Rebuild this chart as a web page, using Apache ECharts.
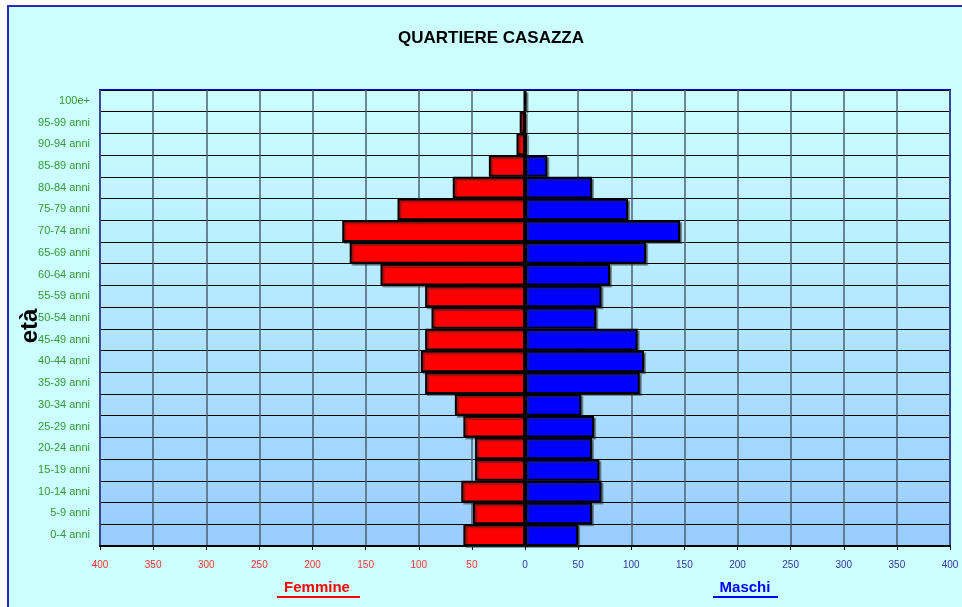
<!DOCTYPE html>
<html>
<head>
<meta charset="utf-8">
<script src="https://cdn.jsdelivr.net/npm/echarts@6/dist/echarts.min.js"></script>
<style>
html,body{margin:0;padding:0;background:#fff;}
#c{width:962px;height:607px;}
</style>
</head>
<body>
<div id="c"></div>
<script>
// Age classes, top to bottom
var categories = ['100e+','95-99 anni','90-94 anni','85-89 anni','80-84 anni','75-79 anni','70-74 anni','65-69 anni','60-64 anni','55-59 anni','50-54 anni','45-49 anni','40-44 anni','35-39 anni','30-34 anni','25-29 anni','20-24 anni','15-19 anni','10-14 anni','5-9 anni','0-4 anni'];
var femmine = [1,5,8,34,68,120,172,165,136,94,88,94,98,94,66,58,47,47,60,49,58];
var maschi  = [1,0,2,21,63,97,146,114,80,72,67,106,112,108,53,65,63,70,72,63,50];
var xTicks = {min:-400, max:400, interval:50};

var chart = echarts.init(document.getElementById('c'), null, {renderer:'canvas'});
var font = '"Liberation Sans", Arial, sans-serif';
var option = {
  backgroundColor: '#ffffff',
  animation: false,
  graphic: [
    {type:'rect', z:-10, shape:{x:8, y:6, width:970, height:620}, style:{fill:'#ccffff', stroke:'#2a2ab8', lineWidth:2}},
    {type:'text', z:10, x:491, y:38, style:{text:'QUARTIERE CASAZZA', font:'bold 17px '+font, fill:'#000', textAlign:'center', textVerticalAlign:'middle'}},
    {type:'text', z:10, x:30, y:326, rotation:Math.PI/2, style:{text:'età', font:'bold 24px '+font, fill:'#000', textAlign:'center', textVerticalAlign:'middle'}},
    {type:'text', z:10, x:317, y:588, style:{text:'Femmine', font:'bold 15px '+font, fill:'#ff0000', textAlign:'center', textVerticalAlign:'middle'}},
    {type:'line', z:10, shape:{x1:277, y1:597, x2:360, y2:597}, style:{stroke:'#ff0000', lineWidth:2}},
    {type:'text', z:10, x:745, y:588, style:{text:'Maschi', font:'bold 15px '+font, fill:'#0000ff', textAlign:'center', textVerticalAlign:'middle'}},
    {type:'line', z:10, shape:{x1:713, y1:597, x2:778, y2:597}, style:{stroke:'#0000ff', lineWidth:2}}
  ],
  grid: {
    left:100, right:12, top:90, bottom:61,
    show:true,
    backgroundColor: new echarts.graphic.LinearGradient(0,0,0,1,[{offset:0,color:'#ccffff'},{offset:1,color:'#99ccff'}]),
    borderColor:'#0000ff', borderWidth:2
  },
  xAxis: {
    type:'value', min:xTicks.min, max:xTicks.max, interval:xTicks.interval,
    axisLine:{show:true, onZero:false, lineStyle:{color:'#000', width:2}},
    axisTick:{show:true, length:4, lineStyle:{color:'#000', width:1}},
    splitLine:{show:true, lineStyle:{color:'#4d6070', width:1.5}},
    axisLabel:{
      margin:14, fontFamily:font, fontSize:10,
      formatter:function(v){ return v<0 ? '{r|'+(-v)+'}' : '{b|'+v+'}'; },
      rich:{ r:{color:'#ff3333', fontSize:10, fontFamily:font}, b:{color:'#333399', fontSize:10, fontFamily:font} }
    }
  },
  yAxis: {
    type:'category', data:categories, inverse:true,
    axisLine:{show:false}, axisTick:{show:false},
    splitLine:{show:true, lineStyle:{color:'#000', width:1}},
    axisLabel:{color:'#339933', fontSize:11, fontFamily:font, margin:10}
  },
  series: [
    {name:'Femmine', type:'bar', data:femmine.map(function(v){return -v;}), barGap:'-100%', barCategoryGap:'0%',
     itemStyle:{color:'#ff0000', borderColor:'#000', borderWidth:2, shadowColor:'rgba(40,40,40,0.45)', shadowOffsetX:2, shadowOffsetY:2}},
    {name:'Maschi', type:'bar', data:maschi, barGap:'-100%', barCategoryGap:'0%',
     itemStyle:{color:'#0000ff', borderColor:'#000', borderWidth:2, shadowColor:'rgba(40,40,40,0.45)', shadowOffsetX:2, shadowOffsetY:2}}
  ]
};
chart.setOption(option);
</script>
</body>
</html>
